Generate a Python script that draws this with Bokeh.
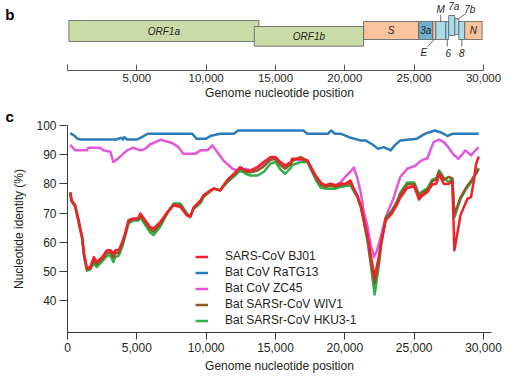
from bokeh.plotting import figure
from bokeh.models import (Range1d, FixedTicker, NumeralTickFormatter, Legend,
                          LegendItem, Label, ColumnDataSource, LinearAxis)
from bokeh.layouts import column
from bokeh.embed import file_html
from bokeh.resources import INLINE
from bokeh.core.properties import value

# ------------------------------------------------------------------ data
# panel b: genome organisation (nucleotide start / end of each ORF)
gene_names = ["ORF1a", "ORF1b", "S", "3a", "E", "M", "6", "7a", "7b", "8", "N"]
gene_start = [100, 13470, 21350, 25330, 26340, 26560, 27280, 27490, 27930, 28220, 28650]
gene_end = [13800, 21350, 25330, 26340, 26560, 27280, 27490, 27930, 28220, 28650, 29900]

# panel c: sliding-window nucleotide identity (%)
position = [
    200, 300, 550, 800, 900, 1050, 1200, 1400, 1650, 1900,
    2100, 2500, 2850, 3100, 3300, 3450, 3700, 3950, 4150, 4400,
    4750, 5100, 5250, 5600, 5950, 6200, 6700, 7200, 7650, 8150,
    8600, 8850, 9100, 9600, 9800, 10300, 10550, 11000, 11500, 12000,
    12450, 12850, 13200, 13700, 14150, 14650, 15000, 15350, 15700, 16100,
    16200, 16800, 17300, 17500, 17900, 18250, 18600, 18950, 19350, 19700,
    20050, 20400, 20650, 20900, 21150, 21350, 21650, 21850, 22150, 22450,
    22600, 22950, 23400, 23800, 24000, 24500, 25000, 25350, 25600, 25950,
    26300, 26600, 26800, 27150, 27500, 27750, 27900, 28350, 28850, 29100,
    29300, 29450, 29650]
bj01 = [
    77.2, 74.4, 72.7, 67.6, 65.3, 62.0, 56.0, 51.1, 51.6, 55.0,
    53.3, 55.0, 57.3, 57.3, 56.2, 57.3, 57.3, 60.2, 63.0, 67.6,
    68.2, 68.2, 69.9, 67.6, 65.3, 64.7, 67.0, 70.4, 72.7, 72.1,
    69.3, 68.7, 72.0, 74.4, 76.1, 77.8, 78.4, 77.8, 81.2, 83.5,
    85.8, 84.6, 84.6, 85.8, 87.5, 89.2, 89.2, 87.5, 86.3, 87.5,
    88.6, 88.6, 88.0, 86.3, 82.9, 80.6, 79.5, 80.1, 79.5, 80.1,
    80.1, 81.2, 78.4, 76.1, 72.7, 68.2, 62.0, 56.0, 48.2, 55.0,
    59.6, 67.6, 69.9, 73.3, 75.3, 78.6, 79.2, 74.7, 76.1, 77.2,
    79.8, 80.1, 83.2, 80.0, 80.1, 81.0, 57.3, 69.5, 75.0, 75.5,
    81.0, 86.5, 89.4]
wiv1 = [
    77.0, 74.2, 72.5, 67.3, 65.0, 61.8, 55.5, 50.8, 51.2, 54.0,
    52.5, 54.3, 56.5, 56.5, 54.8, 56.3, 56.5, 59.5, 62.5, 67.0,
    67.9, 67.9, 69.3, 66.9, 64.5, 63.7, 66.3, 70.2, 73.0, 72.7,
    69.6, 68.8, 71.8, 74.0, 75.8, 77.6, 78.4, 77.8, 80.9, 83.1,
    85.3, 84.2, 84.0, 84.6, 86.0, 88.3, 88.5, 86.5, 85.2, 86.8,
    87.8, 89.2, 88.0, 86.0, 82.3, 79.8, 79.0, 79.4, 79.0, 79.6,
    79.8, 80.5, 78.0, 75.8, 72.4, 68.0, 61.0, 54.5, 46.0, 53.5,
    59.0, 68.2, 70.6, 74.0, 76.4, 79.8, 80.0, 75.8, 77.0, 78.0,
    81.0, 81.4, 84.2, 81.5, 82.4, 81.8, 69.5, 75.5, 79.5, 81.0,
    82.5, 83.5, 85.0]
hku3 = [
    76.5, 74.0, 72.2, 67.0, 64.5, 61.5, 55.0, 50.3, 50.8, 53.0,
    51.6, 53.5, 55.5, 55.5, 53.3, 55.0, 55.5, 58.5, 62.0, 66.5,
    67.5, 67.5, 68.7, 66.0, 63.5, 62.5, 65.5, 70.0, 73.3, 73.3,
    70.0, 69.0, 71.5, 73.5, 75.5, 77.5, 78.5, 77.8, 80.5, 82.5,
    84.6, 83.5, 82.9, 82.9, 84.1, 87.0, 87.5, 85.0, 83.5, 85.5,
    86.5, 87.5, 87.5, 85.5, 81.5, 78.8, 78.4, 78.4, 78.4, 79.0,
    79.3, 79.5, 77.5, 75.5, 72.0, 67.5, 60.0, 53.0, 42.2, 52.0,
    58.5, 68.5, 71.0, 74.5, 77.0, 80.5, 80.5, 76.5, 77.5, 78.5,
    81.5, 82.0, 84.6, 82.0, 80.6, 82.0, 68.5, 75.0, 79.0, 80.5,
    82.5, 83.5, 85.5]
ratg13_pos = [
    200, 500, 700, 1000, 3500, 3900, 4000, 4100, 4300, 4500,
    5000, 5500, 5800, 9000, 9300, 10000, 10300, 11000, 12000, 12300,
    17000, 17300, 18800, 19000, 19300, 19700, 20300, 21100, 21500, 22000,
    22400, 22800, 23300, 23600, 24000, 25200, 25800, 26500, 27000, 27400,
    27800, 29650]
ratg13 = [
    97.4, 96.5, 95.5, 95.2, 95.2, 95.8, 95.2, 96.0, 95.2, 95.2,
    95.2, 96.4, 97.2, 97.2, 95.5, 95.5, 96.4, 97.2, 97.2, 98.3,
    98.3, 97.2, 97.2, 98.3, 97.2, 97.2, 96.0, 94.9, 94.9, 93.5,
    92.0, 92.6, 91.5, 93.2, 94.9, 95.5, 97.2, 98.3, 97.5, 96.4,
    97.2, 97.2]
zc45_pos = [
    200, 550, 1400, 1500, 2350, 2600, 3100, 3300, 3600, 4300,
    4750, 5250, 5600, 5950, 6700, 7550, 8000, 8350, 9200, 9600,
    10100, 10450, 10800, 11250, 11900, 12450, 12850, 13200, 13700, 14150,
    14650, 15000, 15350, 15700, 16100, 16200, 16800, 17300, 17500, 17900,
    18250, 18600, 18950, 19350, 19700, 20050, 20400, 20650, 20900, 21150,
    21350, 21650, 21850, 22100, 22300, 22600, 22800, 22950, 23500, 24000,
    24500, 25100, 25500, 25950, 26400, 26800, 27150, 27450, 27850, 28200,
    28700, 29100, 29300, 29650]
zc45 = [
    93.4, 91.5, 91.5, 92.4, 92.4, 91.5, 91.0, 87.5, 88.5, 91.5,
    92.4, 91.5, 92.0, 93.5, 95.1, 94.0, 92.6, 90.3, 90.3, 91.5,
    91.5, 93.2, 90.9, 88.0, 85.2, 84.3, 85.2, 84.6, 85.5, 87.0,
    88.5, 88.8, 87.0, 86.0, 87.0, 88.2, 88.4, 88.0, 86.0, 82.5,
    80.2, 79.3, 80.0, 79.6, 80.6, 82.5, 84.2, 85.6, 82.0, 77.0,
    71.0, 65.0, 59.5, 55.0, 57.0, 62.0, 65.9, 68.7, 75.0, 82.4,
    85.2, 86.3, 88.0, 88.8, 94.3, 95.2, 94.3, 92.6, 90.0, 88.6,
    91.5, 89.8, 90.9, 92.5]
series_labels = ["SARS-CoV BJ01", "Bat CoV RaTG13", "Bat CoV ZC45",
                 "Bat SARSr-CoV WIV1", "Bat SARSr-CoV HKU3-1"]
x_ticks = [0, 5000, 10000, 15000, 20000, 25000, 30000]
y_ticks = [40, 50, 60, 70, 80, 90, 100]
panel_letters = ["b", "c"]

# ------------------------------------------------------------------ style
FONT = "Liberation Sans"
TEXT = "#231f20"
AXIS = "#3a3a3a"
W = 529
LEFT, RIGHT = 67, 38
X_END = 30577
NT_PER_PX = X_END / float(W - LEFT - RIGHT)

series_colours = {"SARS-CoV BJ01": "#ee2228", "Bat CoV RaTG13": "#2a7bbb",
                  "Bat CoV ZC45": "#e456dc", "Bat SARSr-CoV WIV1": "#8d5a26",
                  "Bat SARSr-CoV HKU3-1": "#2eb04b"}
gene_fill = {"ORF1a": "#c9dba6", "ORF1b": "#c9dba6", "S": "#f8c39d", "E": "#f8c39d",
             "N": "#f8c39d", "3a": "#6db1cd", "M": "#acdcea", "6": "#acdcea",
             "7a": "#acdcea", "7b": "#acdcea", "8": "#acdcea"}
# vertical extent of each box (px above the axis line)
gene_rows = {"ORF1a": (29, 50), "ORF1b": (24.3, 44), "7a": (35, 55), "7b": (36, 52)}
default_row = (31, 49)
inside_labels = ["ORF1a", "ORF1b", "S", "3a", "N"]
# callouts: label dx(px), label y, leader (x0 px, y0, x1 px, y1) or None
callouts = {
    "M": (0, 61, (0, 56, 0, 49)),
    "7a": (2, 64, None),
    "7b": (13, 61, (9, 57, 2, 52)),
    "E": (-10.5, 18, (-6.5, 24, 0, 31)),
    "6": (1, 18, (0, 24, 0, 31)),
    "8": (0, 18, (0, 24, 0, 31)),
}
LETTER_Y_B = 56     # height (px above axis) of the panel letter "b"

# ------------------------------------------------------------------ panel b
HB = 104
pb = figure(width=W, height=HB, x_range=Range1d(0, X_END), y_range=Range1d(0, 70),
            output_backend="svg", toolbar_location=None, y_axis_location=None,
            min_border_left=LEFT, min_border_right=RIGHT, min_border_top=0,
            min_border_bottom=34)
pb.grid.visible = False
pb.outline_line_color = None

bottoms = [gene_rows.get(g, default_row)[0] for g in gene_names]
tops = [gene_rows.get(g, default_row)[1] for g in gene_names]
centres = [(s + e) / 2.0 for s, e in zip(gene_start, gene_end)]
gsrc = ColumnDataSource(dict(left=gene_start, right=gene_end, bottom=bottoms, top=tops,
                             fill=[gene_fill[g] for g in gene_names]))
pb.quad(left="left", right="right", bottom="bottom", top="top", fill_color="fill",
        line_color="#5c5c5c", line_width=0.8, source=gsrc)

ins = [i for i, g in enumerate(gene_names) if g in inside_labels]
pb.text(x=[centres[i] for i in ins], y=[(bottoms[i] + tops[i]) / 2.0 for i in ins],
        text=[gene_names[i] for i in ins], text_font=value(FONT), text_font_size="10px",
        text_font_style="italic", text_align="center", text_baseline="middle",
        text_color=TEXT)

for g, (dx, ly, leader) in callouts.items():
    c = centres[gene_names.index(g)]
    pb.add_layout(Label(x=c + dx * NT_PER_PX, y=ly, text=g, text_font=FONT,
                        text_font_size="10px", text_font_style="italic",
                        text_align="center", text_baseline="middle", text_color=TEXT))
    if leader is not None:
        x0, y0, x1, y1 = leader
        pb.line([c + x0 * NT_PER_PX, c + x1 * NT_PER_PX], [y0, y1],
                line_color="#444444", line_width=0.8)

pb.xaxis.ticker = FixedTicker(ticks=x_ticks)
pb.xaxis.bounds = (0, 30000)
pb.xaxis.formatter = NumeralTickFormatter(format="0,0")
pb.xaxis.major_label_overrides = {0: ""}
pb.xaxis.major_tick_in = 6
pb.xaxis.major_tick_out = 0
pb.xaxis.minor_tick_line_color = None
pb.xaxis.axis_line_color = "#555555"
pb.xaxis.major_tick_line_color = "#555555"
pb.xaxis.major_label_standoff = 3
pb.xaxis.major_label_text_font = FONT
pb.xaxis.major_label_text_font_size = "11.5px"
pb.xaxis.major_label_text_color = TEXT
pb.xaxis.axis_label = "Genome nucleotide position"
pb.xaxis.axis_label_standoff = 1
pb.xaxis.axis_label_text_font = FONT
pb.xaxis.axis_label_text_font_size = "12px"
pb.xaxis.axis_label_text_font_style = "normal"
pb.xaxis.axis_label_text_color = TEXT

# panel letter "b": a label-only axis on the left
letter_axis = LinearAxis(ticker=FixedTicker(ticks=[LETTER_Y_B]),
                         major_label_overrides={LETTER_Y_B: panel_letters[0]},
                         axis_line_color=None, major_tick_line_color=None,
                         minor_tick_line_color=None, major_tick_in=0, major_tick_out=0,
                         major_label_standoff=53, major_label_text_font=FONT,
                         major_label_text_font_size="15px",
                         major_label_text_font_style="bold",
                         major_label_text_color="black")
pb.add_layout(letter_axis, "left")

# ------------------------------------------------------------------ panel c
HC = 376 - HB
pc = figure(width=W, height=HC, x_range=Range1d(0, X_END), y_range=Range1d(29.2, 100),
            output_backend="svg", toolbar_location=None,
            min_border_left=LEFT, min_border_right=RIGHT, min_border_top=21,
            min_border_bottom=44)
pc.grid.visible = False
pc.outline_line_color = None

pc.title.text = panel_letters[1]
pc.title.align = "left"
pc.title.offset = -62
pc.title.standoff = 2
pc.title.text_font = FONT
pc.title.text_font_size = "15px"
pc.title.text_font_style = "bold"
pc.title.text_color = "black"

lw = 2.5
r_blue = pc.line(ratg13_pos, ratg13, line_color=series_colours["Bat CoV RaTG13"],
                 line_width=lw, line_join="round")
r_mag = pc.line(zc45_pos, zc45, line_color=series_colours["Bat CoV ZC45"],
                line_width=lw, line_join="round")
r_green = pc.line(position, hku3, line_color=series_colours["Bat SARSr-CoV HKU3-1"],
                  line_width=lw, line_join="round")
r_brown = pc.line(position, wiv1, line_color=series_colours["Bat SARSr-CoV WIV1"],
                  line_width=lw, line_join="round")
r_red = pc.line(position, bj01, line_color=series_colours["SARS-CoV BJ01"],
                line_width=lw, line_join="round")

renderers = {"SARS-CoV BJ01": r_red, "Bat CoV RaTG13": r_blue, "Bat CoV ZC45": r_mag,
             "Bat SARSr-CoV WIV1": r_brown, "Bat SARSr-CoV HKU3-1": r_green}
legend = Legend(items=[LegendItem(label=s, renderers=[renderers[s]]) for s in series_labels],
                location=(128, 5), glyph_width=13, glyph_height=13, label_height=13,
                spacing=2, padding=0, margin=0, label_standoff=17,
                border_line_color=None, background_fill_alpha=0,
                label_text_font=FONT, label_text_font_size="12px",
                label_text_color=TEXT)
pc.add_layout(legend)

for ax in (pc.xaxis, pc.yaxis):
    ax.axis_line_color = AXIS
    ax.major_tick_line_color = AXIS
    ax.minor_tick_line_color = None
    ax.major_tick_in = 0
    ax.major_label_text_font = FONT
    ax.major_label_text_font_size = "12px"
    ax.major_label_text_color = TEXT
    ax.axis_label_text_font = FONT
    ax.axis_label_text_font_size = "12px"
    ax.axis_label_text_font_style = "normal"
    ax.axis_label_text_color = TEXT

pc.xaxis.ticker = FixedTicker(ticks=x_ticks)
pc.xaxis.formatter = NumeralTickFormatter(format="0,0")
pc.xaxis.major_tick_out = 7
pc.xaxis.major_label_standoff = 3
pc.xaxis.axis_label = "Genome nucleotide position"
pc.xaxis.axis_label_standoff = 4

pc.yaxis.ticker = FixedTicker(ticks=y_ticks)
pc.yaxis.major_tick_out = 8
pc.yaxis.major_label_standoff = 3
pc.yaxis.axis_label = "Nucleotide identity (%)"
pc.yaxis.axis_label_standoff = 7

layout = column(pb, pc)
open("out.html", "w").write(file_html(layout, INLINE))
